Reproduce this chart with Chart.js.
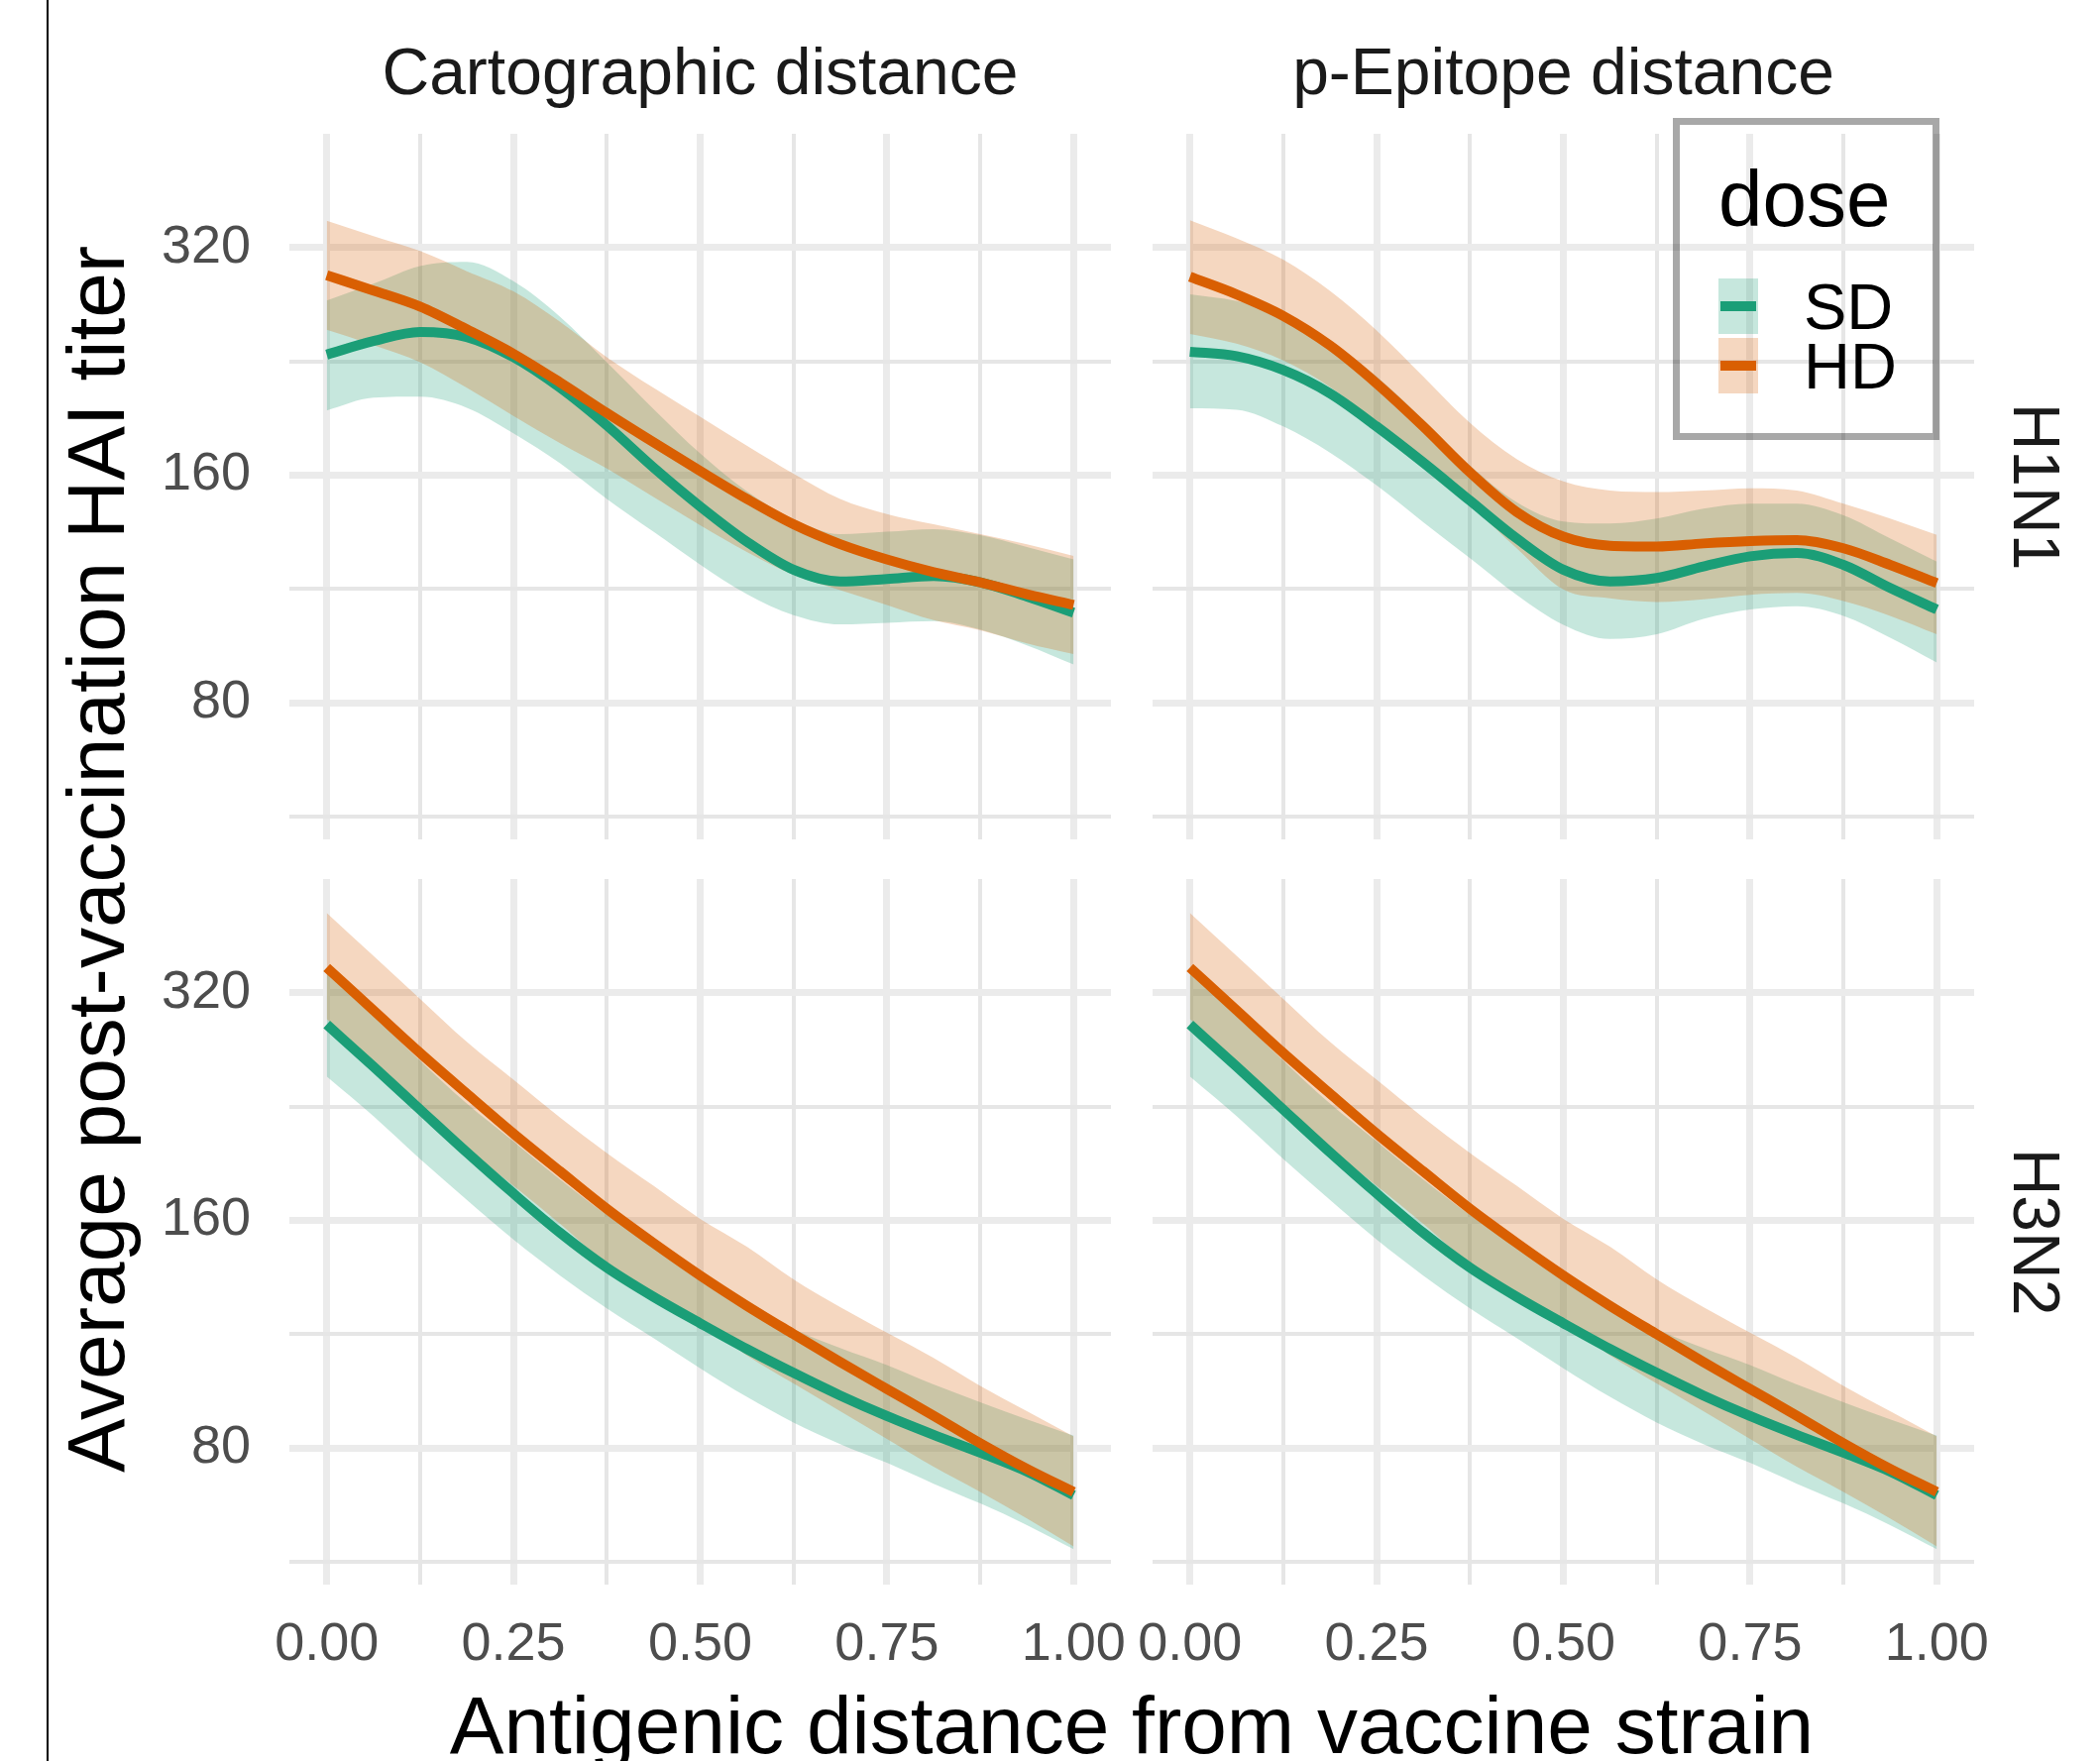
<!DOCTYPE html>
<html>
<head>
<meta charset="utf-8">
<title>Average post-vaccination HAI titer</title>
<script src="https://cdn.jsdelivr.net/npm/chart.js@4.4.1/dist/chart.umd.min.js"></script>
<style>
  html, body { margin: 0; padding: 0; background: #fff; }
  #page { position: relative; width: 2119px; height: 1777px; overflow: hidden; background: #fff; }
  #page canvas { position: absolute; }
  #overlay { position: absolute; left: 0; top: 0; }
  #frame { position: absolute; left: 47px; top: 0; width: 2px; height: 1777px; background: #000; }
</style>
</head>
<body>
<div id="page">
  <div id="frame"></div>
  <canvas id="cartH1N1"></canvas>
  <canvas id="epiH1N1"></canvas>
  <canvas id="cartH3N2"></canvas>
  <canvas id="epiH3N2"></canvas>
  <svg id="overlay" width="2119" height="1777" xmlns="http://www.w3.org/2000/svg"></svg>
</div>
<script>
// ---- data ----
var distances = [0, 0.0625, 0.125, 0.1875, 0.25, 0.3125, 0.375, 0.4375, 0.5, 0.5625, 0.625, 0.6875, 0.75, 0.8125, 0.875, 0.9375, 1];

var doseNames = ["SD", "HD"];
var distanceTypes = ["Cartographic distance", "p-Epitope distance"];
var subtypes = ["H1N1", "H3N2"];

var xTicks = [0, 0.25, 0.5, 0.75, 1];
var xMinorTicks = [0.125, 0.375, 0.625, 0.875];
var yTicks = [80, 160, 320];
var yMinorTicks = [56.57, 113.14, 226.27];

// Cartographic distance, H1N1
var cartH1SdFit = [231, 240.7, 247.5, 243.7, 229.2, 208.8, 186.2, 163.8, 145.5, 130.7, 120, 115.8, 116.7, 117.7, 115.5, 110.6, 105.3];
var cartH1SdHi  = [272.4, 286.6, 302.5, 306.3, 288.8, 259.2, 225.7, 195.8, 171, 152.4, 140, 133.7, 134.7, 135.8, 133.3, 128.6, 123.8];
var cartH1SdLo  = [194.9, 202.6, 203.2, 196.5, 181.8, 165.9, 148.9, 134.7, 121.9, 111.4, 104.5, 101.6, 102.1, 102.6, 100, 95.3, 89.9];
var cartH1HdFit = [294.1, 280.8, 267.4, 249.5, 231.6, 212.2, 193.4, 176.9, 162.1, 148.9, 137.8, 129.7, 123.8, 119.1, 115.5, 111.4, 107.8];
var cartH1HdHi  = [347.3, 331.5, 316.6, 297.8, 280, 255.2, 229.2, 208.8, 191.2, 175.1, 160.8, 148.9, 142.2, 137.8, 133.7, 129.7, 125.1];
var cartH1HdLo  = [249.1, 237.8, 225.7, 208.8, 191.7, 176.4, 163.3, 149.7, 137.4, 126.7, 118.2, 112.8, 107.8, 102.9, 99.8, 95.9, 92.8];

// p-Epitope distance, H1N1
var epiH1SdFit = [233, 229.9, 220.4, 205.3, 185.6, 166.3, 148.1, 132, 120, 115.8, 117, 121.2, 125, 126.3, 121.8, 113.5, 106.3];
var epiH1SdHi  = [277.5, 272, 261.9, 241.1, 216, 189.5, 164.8, 147.4, 139, 138.1, 140.2, 144.5, 146.7, 146.7, 141.6, 132, 123];
var epiH1SdLo  = [196.2, 195.3, 185.6, 171.4, 155.1, 138.7, 124.3, 111.2, 101.5, 97.2, 98.6, 103.3, 106.3, 107.4, 104.3, 97.6, 90.5];
var epiH1HdFit = [292.8, 277.5, 259.9, 237.6, 211.6, 185.6, 161.4, 143.1, 132.7, 129.1, 128.8, 130, 130.9, 131.3, 128.1, 121.8, 115.2];
var epiH1HdHi  = [347.8, 329.2, 308.4, 280.4, 248.6, 216, 187.6, 168.1, 157, 152.7, 152, 152.7, 153.8, 152.7, 146.7, 140.2, 133.4];
var epiH1HdLo  = [246, 238.8, 226.9, 209.4, 187.6, 166.3, 146.3, 128.1, 113, 110, 108.8, 109.7, 111.2, 111.8, 109.1, 104.3, 98.6];

// Cartographic distance, H3N2
var cartH3SdFit = [290.6, 255.6, 224.3, 196.9, 173.7, 154.1, 138.6, 126.8, 117, 108.2, 100.6, 93.9, 88.2, 83.3, 78.9, 74.5, 69.3];
var cartH3SdHi  = [344.6, 299, 260.3, 228.4, 203.6, 181.3, 162.8, 148.4, 136, 125.5, 115, 108.5, 103, 97.1, 92, 87.3, 83.1];
var cartH3SdLo  = [248.1, 219.9, 193, 170.4, 151, 135.3, 122.4, 111.8, 102, 93.5, 86.5, 81, 76.5, 71.8, 67.6, 63.3, 58.8];
var cartH3HdFit = [345.6, 303.5, 266.5, 235.5, 208.5, 185.8, 165.8, 149.4, 135.3, 123.4, 113.2, 104, 95.8, 88.3, 81.2, 75.1, 70];
var cartH3HdHi  = [408.2, 358.1, 314.2, 275.6, 245.6, 218.9, 196.5, 177.8, 160.8, 147.7, 133.7, 122.9, 113.7, 105.3, 96.7, 89.5, 82.9];
var cartH3HdLo  = [295.4, 259.2, 226.3, 199.5, 177.8, 158.3, 140, 127.5, 117.5, 106.1, 97.4, 89.5, 82.3, 75.6, 70, 64.6, 59.3];

// p-Epitope distance, H3N2
var epiH3SdFit = [290.6, 255.6, 224.3, 196.9, 173.7, 154.1, 138.6, 126.8, 117, 108.2, 100.6, 93.9, 88.2, 83.3, 78.9, 74.5, 69.3];
var epiH3SdHi  = [344.6, 299, 260.3, 228.4, 203.6, 181.3, 162.8, 148.4, 136, 125.5, 115, 108.5, 103, 97.1, 92, 87.3, 83.1];
var epiH3SdLo  = [248.1, 219.9, 193, 170.4, 151, 135.3, 122.4, 111.8, 102, 93.5, 86.5, 81, 76.5, 71.8, 67.6, 63.3, 58.8];
var epiH3HdFit = [345.6, 303.5, 266.5, 235.5, 208.5, 185.8, 165.8, 149.4, 135.3, 123.4, 113.2, 104, 95.8, 88.3, 81.2, 75.1, 70];
var epiH3HdHi  = [408.2, 358.1, 314.2, 275.6, 245.6, 218.9, 196.5, 177.8, 160.8, 147.7, 133.7, 122.9, 113.7, 105.3, 96.7, 89.5, 82.9];
var epiH3HdLo  = [295.4, 259.2, 226.3, 199.5, 177.8, 158.3, 140, 127.5, 117.5, 106.1, 97.4, 89.5, 82.3, 75.6, 70, 64.6, 59.3];

// ---- styling / layout ----
var doseColors = ["#1B9E77", "#D95F02"];
var ribbonColors = ["rgba(27,158,119,0.25)", "rgba(217,95,2,0.25)"];
var FONT = "'Liberation Sans', Arial, Helvetica, sans-serif";
var GRID_MAJOR = "#EBEBEB", GRID_MINOR = "#E6E6E6";

var PANEL_W = 829, PANEL_H = 712, PAD = 90, Y_AXIS_W = 130, X_AXIS_H = 100;
var colLeft = [292, 1163], rowTop = [135, 887];
var X_MIN = -0.05, X_MAX = 1.05, Y_MIN = 52.8, Y_MAX = 452.5;

function near(list, v) {
	for (var i = 0; i < list.length; i++) {
		if (Math.abs(list[i] - v) < 1e-6 * Math.max(1, Math.abs(v))) return true;
	}
	return false;
}
function isYMajor(v) {
	for (var i = 0; i < yTicks.length; i++) if (Math.abs(yTicks[i] - v) < 0.01) return true;
	return false;
}

function points(values) {
	return values.map(function (v, i) { return { x: distances[i], y: v }; });
}

function ribbon(hi, lo, k) {
	return [
		{ data: points(hi), borderColor: "rgba(0,0,0,0)", borderWidth: 0.01, backgroundColor: ribbonColors[k],
		  fill: "+1", pointRadius: 0, order: 3 - k, cubicInterpolationMode: "monotone" },
		{ data: points(lo), borderColor: "rgba(0,0,0,0)", borderWidth: 0.01, fill: false,
		  pointRadius: 0, order: 3 - k, cubicInterpolationMode: "monotone" }
	];
}

function fitLine(fit, k) {
	return { data: points(fit), borderColor: doseColors[k], borderWidth: 10, fill: false, pointRadius: 0,
	         order: 1 - k, cubicInterpolationMode: "monotone", borderCapStyle: "butt", borderJoinStyle: "round" };
}

function makePanel(id, col, row, sd, hd) {
	var canvas = document.getElementById(id);
	var yw = col === 0 ? Y_AXIS_W : 0;
	var xh = row === 1 ? X_AXIS_H : 0;
	var w = PANEL_W + 2 * PAD + yw;
	var h = PANEL_H + 2 * PAD + xh;
	canvas.width = w; canvas.height = h;
	canvas.style.width = w + "px"; canvas.style.height = h + "px";
	canvas.style.left = (colLeft[col] - PAD - yw) + "px";
	canvas.style.top = (rowTop[row] - PAD) + "px";

	var datasets = [].concat(
		ribbon(sd.hi, sd.lo, 0),
		ribbon(hd.hi, hd.lo, 1),
		[fitLine(sd.fit, 0), fitLine(hd.fit, 1)]
	);

	var xAll = xTicks.concat(xMinorTicks).sort(function (a, b) { return a - b; });
	var yAll = yTicks.concat(yMinorTicks).sort(function (a, b) { return a - b; });

	return new Chart(canvas, {
		type: "line",
		data: { datasets: datasets },
		options: {
			responsive: false,
			animation: false,
			devicePixelRatio: 1,
			events: [],
			layout: { padding: PAD },
			plugins: { legend: { display: false }, tooltip: { enabled: false }, title: { display: false } },
			scales: {
				x: {
					type: "linear", min: X_MIN, max: X_MAX,
					afterBuildTicks: function (s) { s.ticks = xAll.map(function (v) { return { value: v }; }); },
					afterFit: function (s) { s.height = xh; },
					border: { display: false },
					grid: {
						drawTicks: false,
						color: function (c) { return c.tick && near(xTicks, c.tick.value) ? GRID_MAJOR : GRID_MINOR; },
						lineWidth: function (c) { return c.tick && near(xTicks, c.tick.value) ? 7 : 4; }
					},
					ticks: {
						display: row === 1, autoSkip: false, maxRotation: 0, minRotation: 0, padding: 29,
						color: "#4D4D4D", font: { family: FONT, size: 54 },
						callback: function (v) { return near(xTicks, v) ? Number(v).toFixed(2) : ""; }
					}
				},
				y: {
					type: "logarithmic", min: Y_MIN, max: Y_MAX,
					afterBuildTicks: function (s) { s.ticks = yAll.map(function (v) { return { value: v }; }); },
					afterFit: function (s) { s.width = yw; },
					border: { display: false },
					grid: {
						drawTicks: false,
						color: function (c) { return c.tick && isYMajor(c.tick.value) ? GRID_MAJOR : GRID_MINOR; },
						lineWidth: function (c) { return c.tick && isYMajor(c.tick.value) ? 7 : 4; }
					},
					ticks: {
						display: col === 0, autoSkip: false, padding: 39,
						color: "#4D4D4D", font: { family: FONT, size: 54 },
						callback: function (v) { return isYMajor(v) ? String(Math.round(v)) : ""; }
					}
				}
			}
		}
	});
}

makePanel("cartH1N1", 0, 0,
	{ fit: cartH1SdFit, hi: cartH1SdHi, lo: cartH1SdLo },
	{ fit: cartH1HdFit, hi: cartH1HdHi, lo: cartH1HdLo });
makePanel("epiH1N1", 1, 0,
	{ fit: epiH1SdFit, hi: epiH1SdHi, lo: epiH1SdLo },
	{ fit: epiH1HdFit, hi: epiH1HdHi, lo: epiH1HdLo });
makePanel("cartH3N2", 0, 1,
	{ fit: cartH3SdFit, hi: cartH3SdHi, lo: cartH3SdLo },
	{ fit: cartH3HdFit, hi: cartH3HdHi, lo: cartH3HdLo });
makePanel("epiH3N2", 1, 1,
	{ fit: epiH3SdFit, hi: epiH3SdHi, lo: epiH3SdLo },
	{ fit: epiH3HdFit, hi: epiH3HdHi, lo: epiH3HdLo });

// ---- text, strips and legend ----
var svg = document.getElementById("overlay");
var NS = "http://www.w3.org/2000/svg";

function el(tag, attrs, text) {
	var e = document.createElementNS(NS, tag);
	for (var k in attrs) e.setAttribute(k, attrs[k]);
	if (text != null) e.textContent = text;
	svg.appendChild(e);
	return e;
}
function label(text, x, y, size, color, anchor, rotate) {
	var a = { x: x, y: y, "font-family": FONT, "font-size": size, fill: color, "text-anchor": anchor || "middle" };
	if (rotate) a.transform = "rotate(" + rotate + " " + x + " " + y + ")";
	return el("text", a, text);
}

// facet strips
distanceTypes.forEach(function (name, c) {
	label(name, colLeft[c] + PANEL_W / 2, 95, 66, "#1A1A1A");
});
subtypes.forEach(function (name, r) {
	label(name, 2032, rowTop[r] + PANEL_H / 2, 66, "#1A1A1A", "middle", 90);
});

// axis titles
label("Average post-vaccination HAI titer", 125, (rowTop[0] + rowTop[1] + PANEL_H) / 2, 82, "#000", "middle", -90);
label("Antigenic distance from vaccine strain", (colLeft[0] + colLeft[1] + PANEL_W) / 2, 1769, 82, "#000");

// legend
el("rect", { x: 1691.5, y: 122.5, width: 262, height: 318, fill: "none",
             stroke: "rgba(0,0,0,0.34)", "stroke-width": 7 });
label("dose", 1734, 228, 80, "#000", "start");
doseNames.forEach(function (name, k) {
	var top = 281 + k * 60;
	el("rect", { x: 1734, y: top, width: 40, height: 56, fill: ribbonColors[k] });
	el("rect", { x: 1736, y: top + 23, width: 36, height: 10, fill: doseColors[k] });
	label(name, 1820, top + 51, 65, "#000", "start");
});
</script>
</body>
</html>
